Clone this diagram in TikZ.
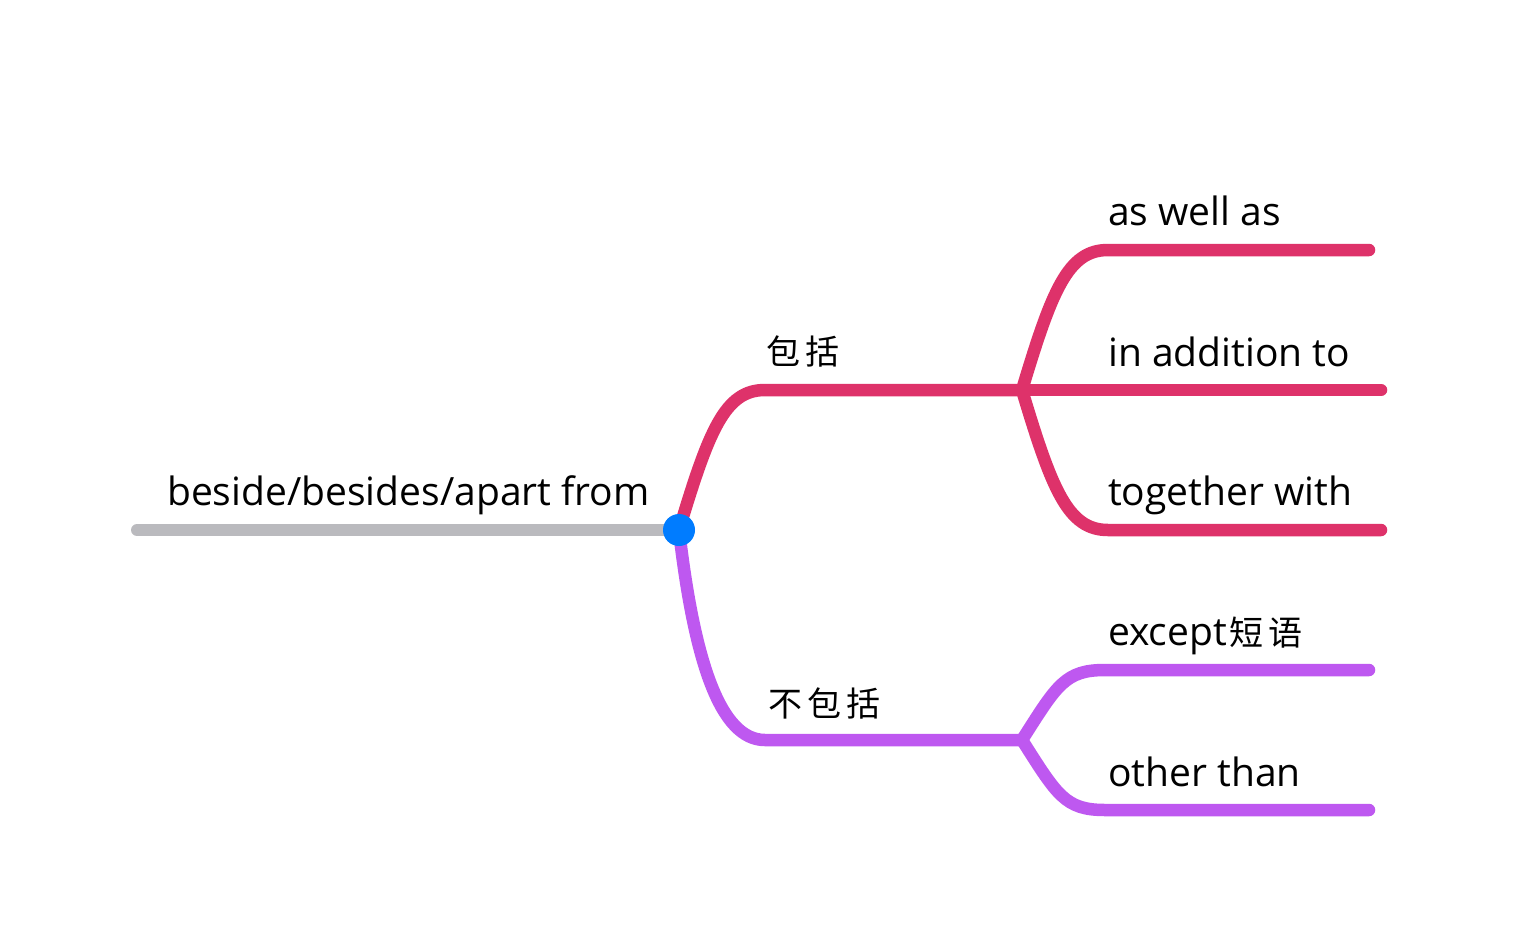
\documentclass[tikz,border=0pt]{standalone}
\usepackage{fontspec}
\setmainfont{Open Sans}
\newfontfamily\cjk{Noto Sans CJK SC}
\definecolor{rootgray}{RGB}{186,186,190}
\definecolor{incpink}{RGB}{222,50,106}
\definecolor{excpurple}{RGB}{190,88,240}
\definecolor{dotblue}{RGB}{0,124,255}
\newcommand{\cg}{\hspace{5pt}}
\begin{document}
\begin{tikzpicture}[x=1pt,y=-1pt,
  rootline/.style={draw=rootgray,line width=12pt,line cap=round},
  incline/.style={draw=incpink,line width=12.5pt,line cap=round,line join=round},
  excline/.style={draw=excpurple,line width=12.5pt,line cap=round,line join=round},
  lbl/.style={anchor=base west,inner sep=0pt,font=\fontsize{39}{45}\selectfont,text=black},
  cjklbl/.style={anchor=base west,inner sep=0pt,font=\cjk\fontsize{34}{40}\selectfont,text=black}]
\useasboundingbox (0,0) rectangle (1518,948);
\fill[white] (0,0) rectangle (1518,948);
% coordinates
\coordinate (rootL) at (137,530);
\coordinate (root) at (679,530);
\coordinate (inc) at (765,390);
\coordinate (incE) at (1022,390);
\coordinate (exc) at (765,740);
\coordinate (excE) at (1022,740);
\coordinate (a1) at (1108,250);
\coordinate (a1E) at (1369,250);
\coordinate (a2E) at (1381,390);
\coordinate (a3) at (1108,530);
\coordinate (a3E) at (1381,530);
\coordinate (b1) at (1105,670);
\coordinate (b1E) at (1369,670);
\coordinate (b2) at (1105,810);
\coordinate (b2E) at (1369,810);
% connectors
\draw[rootline] (rootL) -- (root);
\draw[incline] (root) .. controls +(30,-100) and +(-40,0) .. (inc) -- (incE);
\draw[incline] (incE) .. controls +(30,-100) and +(-40,0) .. (a1) -- (a1E);
\draw[incline] (incE) -- (a2E);
\draw[incline] (incE) .. controls +(30,100) and +(-40,0) .. (a3) -- (a3E);
\draw[excline] (root) .. controls +(15,130) and +(-45,0) .. (exc) -- (excE);
\draw[excline] (excE) .. controls +(35,-55) and +(-40,0) .. (b1) -- (b1E);
\draw[excline] (excE) .. controls +(35,55) and +(-40,0) .. (b2) -- (b2E);
\fill[dotblue] (root) circle (16);
% labels
\node[lbl] (rootT) at (167,505) {beside/besides/apart from};
\node[cjklbl] (incT) at (766,364) {包\cg 括};
\node[cjklbl] (excT) at (768,716) {不\cg 包\cg 括};
\node[lbl] (t1) at (1108,225) {as well as};
\node[lbl] (t2) at (1108,366) {in addition to};
\node[lbl] (t3) at (1108,505) {together with};
\node[lbl] (t4) at (1108,645) {except{\cjk\fontsize{34}{40}\selectfont\hspace{2pt}短\cg 语}};
\node[lbl] (t5) at (1108,786) {other than};
\end{tikzpicture}
\end{document}
